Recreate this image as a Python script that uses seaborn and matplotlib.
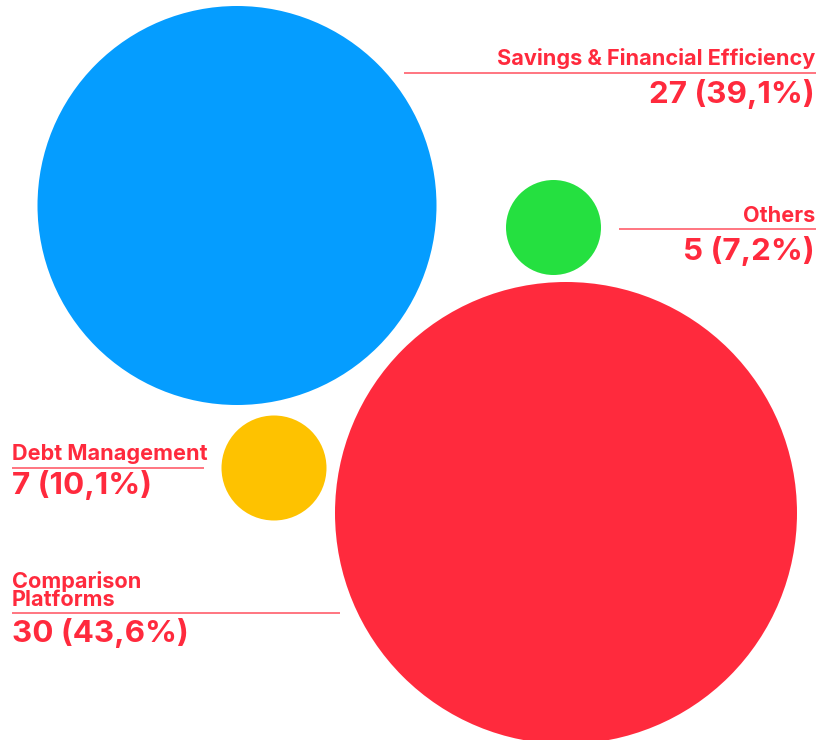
import numpy as np
import pandas as pd
import seaborn as sns
import matplotlib.pyplot as plt


# ----------------------------
# Data
# ----------------------------

categories = ["Savings & Financial Efficiency", "Others", "Debt Management", "Comparison Platforms"]
counts     = [27, 5, 7, 30]
percents   = ["39,1%", "7,2%", "10,1%", "43,6%"]
label_text = ["Savings & Financial Efficiency", "Others", "Debt Management", "Comparison\nPlatforms"]


# ----------------------------
# Layout (pixel space, y down)
# ----------------------------

centers_x = [237, 553.5, 274, 566]
centers_y = [205.5, 227.5, 468, 513]
radii     = [199.5, 47.5, 52.5, 231]
colors    = ["#059dff", "#25e040", "#fec200", "#ff2a3d"]

# label side, text x, name baseline, leader y, value baseline
label_side   = ["right", "right", "left", "left"]
label_x      = [815, 815, 12, 12]
name_y       = [65, 222, 460, 605.5]
leader_y     = [73.3, 229.3, 468.3, 613.3]
value_y      = [103, 260.5, 494, 641.5]
leader_gap   = 18

text_red = "#ff2a3d"
line_red = "#ff6a76"
font     = ["Inter", "DejaVu Sans"]


# ----------------------------
# Build frame
# ----------------------------

df = pd.DataFrame({
    "category": categories,
    "count": counts,
    "x": centers_x,
    "y": centers_y,
    "r": radii,
})

W, H, DPI = 828, 740, 100
px_to_pt = 72 / DPI
marker_area = {c: (2 * r * px_to_pt) ** 2 for c, r in zip(categories, radii)}


# ----------------------------
# Plot
# ----------------------------

sns.set_style("white")
plt.rcParams["font.family"] = font

fig = plt.figure(figsize=(W / DPI, H / DPI), dpi=DPI)
ax = fig.add_axes([0, 0, 1, 1])

sns.scatterplot(
    data=df, x="x", y="y",
    hue="category", palette=dict(zip(categories, colors)),
    size="category", sizes=marker_area,
    linewidth=0, alpha=1, legend=False, ax=ax,
)

ax.set_xlim(0, W)
ax.set_ylim(H, 0)
ax.set_aspect("equal")
ax.axis("off")

for i in range(len(categories)):
    cx, cy, r = centers_x[i], centers_y[i], radii[i]
    ly = leader_y[i]
    dx = np.sqrt(max(r ** 2 - (ly - cy) ** 2, 0))
    if label_side[i] == "right":
        x0, x1 = cx + dx + leader_gap, label_x[i] + 1
        ha = "right"
    else:
        x0, x1 = label_x[i], cx - dx - leader_gap
        ha = "left"
    ax.plot([x0, x1], [ly, ly], color=line_red, lw=1.3, solid_capstyle="butt")

    ax.text(label_x[i], name_y[i], label_text[i], ha=ha, va="baseline",
            color=text_red, fontsize=15.6, fontweight="bold", linespacing=0.85)
    ax.text(label_x[i], value_y[i], f"{counts[i]} ({percents[i]})", ha=ha, va="baseline",
            color=text_red, fontsize=22.6, fontweight="bold")

plt.savefig("out.png", dpi=DPI)
plt.close()
